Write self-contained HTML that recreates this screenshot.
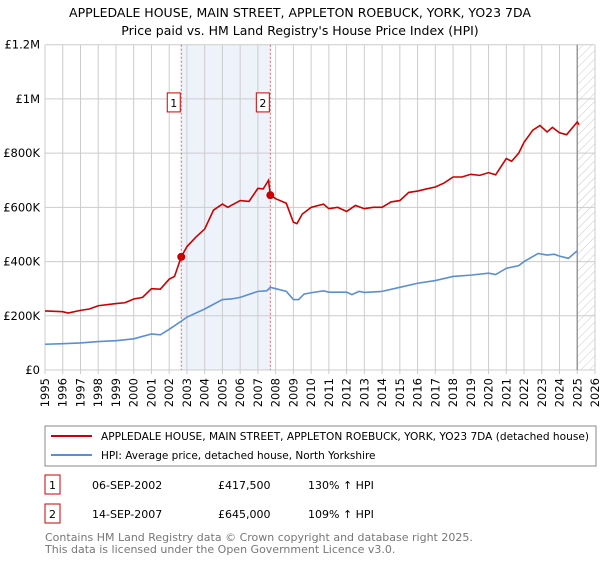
<!DOCTYPE html>
<html><head><meta charset="utf-8"><style>
body{margin:0;background:#fff;font-family:"DejaVu Sans","Liberation Sans",sans-serif;}
svg text{font-family:"DejaVu Sans","Liberation Sans",sans-serif;}
</style></head><body>
<svg id="chart" width="600" height="560" xmlns="http://www.w3.org/2000/svg">
<defs><pattern id="hatch" patternUnits="userSpaceOnUse" width="6" height="6" patternTransform="rotate(45)"><line x1="0" y1="0" x2="0" y2="6" stroke="#bbb" stroke-width="0.8"/></pattern></defs>
<text x="300" y="17" text-anchor="middle" font-size="12.5">APPLEDALE HOUSE, MAIN STREET, APPLETON ROEBUCK, YORK, YO23 7DA</text>
<text x="300" y="35" text-anchor="middle" font-size="12.5">Price paid vs. HM Land Registry's House Price Index (HPI)</text>
<g id="plot"></g>
<rect x="45" y="426" width="551" height="40" fill="#fff" stroke="#888"/>
<line x1="51" y1="436" x2="92" y2="436" stroke="#cc0000" stroke-width="2"/>
<text x="101" y="440" font-size="10.5" textLength="488" lengthAdjust="spacingAndGlyphs">APPLEDALE HOUSE, MAIN STREET, APPLETON ROEBUCK, YORK, YO23 7DA (detached house)</text>
<line x1="51" y1="455" x2="92" y2="455" stroke="#5b8fd4" stroke-width="2"/>
<text x="101" y="459" font-size="10.5">HPI: Average price, detached house, North Yorkshire</text>
<g font-size="11">
<rect x="45" y="475" width="15" height="19" fill="none" stroke="#cc0000"/><text x="52.5" y="489" text-anchor="middle">1</text>
<text x="92" y="489">06-SEP-2002</text><text x="218" y="489">£417,500</text><text x="308" y="489">130% ↑ HPI</text></g>
<g font-size="11">
<rect x="45" y="504" width="15" height="19" fill="none" stroke="#cc0000"/><text x="52.5" y="518" text-anchor="middle">2</text>
<text x="92" y="518">14-SEP-2007</text><text x="218" y="518">£645,000</text><text x="308" y="518">109% ↑ HPI</text></g>
<text x="45" y="541" font-size="11" fill="#777">Contains HM Land Registry data © Crown copyright and database right 2025.</text>
<text x="45" y="553" font-size="11" fill="#777">This data is licensed under the Open Government Licence v3.0.</text>
</svg>
<script>
const redYears=[1995,1996,1996.3,1997,1997.5,1998,1999,1999.5,2000,2000.5,2001,2001.5,2002,2002.3,2002.68,2003,2003.5,2004,2004.5,2005,2005.3,2006,2006.5,2007,2007.3,2007.6,2007.7,2008,2008.6,2009,2009.2,2009.5,2010,2010.7,2011,2011.5,2012,2012.5,2013,2013.5,2014,2014.5,2015,2015.5,2016,2016.5,2017,2017.5,2018,2018.5,2019,2019.5,2020,2020.4,2021,2021.3,2021.7,2022,2022.5,2022.9,2023.3,2023.6,2024,2024.4,2025,2025.1];
const redVals=[218,215,210,220,225,237,245,248,262,268,300,298,335,345,417.5,455,490,520,590,612,600,625,622,670,668,700,645,632,615,545,540,575,600,612,595,600,585,607,595,600,600,620,625,655,660,668,675,690,712,712,722,718,728,720,780,770,800,840,885,902,878,895,875,868,915,905];
const blueYears=[1995,1996,1997,1998,1999,2000,2001,2001.5,2002,2002.68,2003,2004,2005,2005.5,2006,2007,2007.5,2007.7,2008,2008.6,2009,2009.3,2009.6,2010,2010.7,2011,2012,2012.3,2012.7,2013,2014,2015,2016,2017,2018,2019,2020,2020.4,2021,2021.7,2022,2022.8,2023.3,2023.7,2024,2024.5,2025];
const blueVals=[95,97,100,105,108,115,133,130,150,180,195,225,260,262,268,290,292,305,300,290,260,260,280,285,292,287,287,278,290,286,290,305,320,330,345,350,357,352,375,385,400,430,424,427,420,412,440];
const saleYears=[2002.68,2007.7];
const saleVals=[417.5,645];
const saleLabels=["1","2"];
const yTicks=[0,200,400,600,800,1000,1200];
const yTickLabels=["£0","£200K","£400K","£600K","£800K","£1M","£1.2M"];
const xTicks=[1995,1996,1997,1998,1999,2000,2001,2002,2003,2004,2005,2006,2007,2008,2009,2010,2011,2012,2013,2014,2015,2016,2017,2018,2019,2020,2021,2022,2023,2024,2025,2026];
const X0=45,X1=595,Y0=370,Y1=44.7;
const xs=y=>X0+(y-1995)/(2026-1995)*(X1-X0);
const ys=v=>Y0-v/1200*(Y0-Y1);
const NS="http://www.w3.org/2000/svg";
const g=document.getElementById('plot');
function mk(t,a){const e=document.createElementNS(NS,t);for(const k in a)e.setAttribute(k,a[k]);g.appendChild(e);return e;}
let e;
e=mk('rect',{x:xs(saleYears[0]),y:Y1,width:xs(saleYears[1])-xs(saleYears[0]),height:Y0-Y1,fill:'#eef2fb'});


e=mk('rect',{x:xs(2025),y:Y1,width:X1-xs(2025),height:Y0-Y1,fill:'url(#hatch)'});


yTicks.forEach((v,i)=>{
 e=mk('line',{x1:X0,x2:X1,y1:ys(v),y2:ys(v),stroke:'#ccc'});
 
 
 e=mk('text',{x:X0-5,y:ys(v)+4,'text-anchor':'end','font-size':'11.5'});e.textContent=yTickLabels[i];
 
 
});
xTicks.forEach(v=>{
 e=mk('line',{x1:xs(v),x2:xs(v),y1:Y1,y2:Y0+4,stroke:'#ccc'});
 
 
 e=mk('text',{x:0,y:0,'font-size':'11.5','text-anchor':'end',transform:`translate(${xs(v)+4},${Y0+8}) rotate(-90)`});e.textContent=v;
 
 
});
e=mk('line',{x1:xs(2025),x2:xs(2025),y1:Y1,y2:Y0,stroke:'#999','stroke-width':1.5});


saleYears.forEach((y,i)=>{
 e=mk('line',{x1:xs(y),x2:xs(y),y1:Y1,y2:Y0,stroke:'#e06060','stroke-dasharray':'2,2'});
 
 
});
function line(xa,va,c,name){
 e=mk('polyline',{points:xa.map((y,i)=>xs(y)+','+ys(va[i])).join(' '),fill:'none',stroke:c,'stroke-width':1.6});
 
 
}
line(blueYears,blueVals,'#5b8fd4','hpi-line');
line(redYears,redVals,'#cc0000','property-price-line');
saleYears.forEach((y,i)=>{
 e=mk('circle',{cx:xs(y),cy:ys(saleVals[i]),r:4,fill:'#cc0000'});
 
 
 e=mk('rect',{x:xs(y)-14,y:ys(1000)-6,width:13,height:19,fill:'#fff',stroke:'#cc0000'});
 
 
 e=mk('text',{x:xs(y)-7.5,y:ys(1000)+8,'text-anchor':'middle','font-size':'11'});e.textContent=saleLabels[i];
 
 
});
</script>
</body></html>
